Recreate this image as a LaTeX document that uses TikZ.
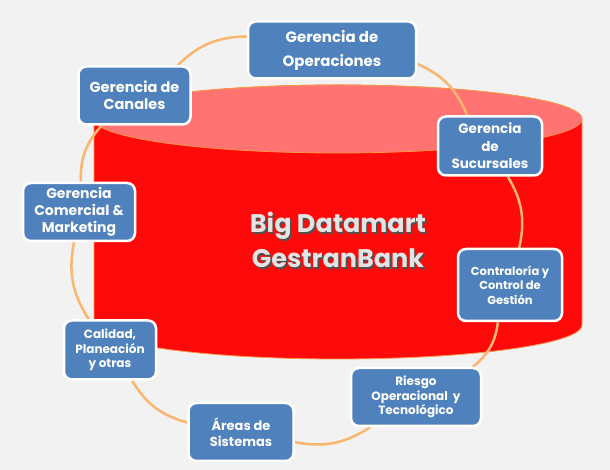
\documentclass[tikz,border=0pt]{standalone}
\usepackage{fontspec}
\setmainfont{Poppins}
\usetikzlibrary{positioning,backgrounds}
\definecolor{boxBlue}{RGB}{79,129,189}
\definecolor{cylRed}{RGB}{255,10,10}
\definecolor{cylTop}{RGB}{255,115,115}
\definecolor{rimOrange}{RGB}{247,150,70}
\definecolor{ringOrange}{RGB}{250,182,110}
\definecolor{pageGray}{RGB}{242,242,242}
\definecolor{titleGray}{RGB}{228,228,228}
\definecolor{shadowGray}{RGB}{80,80,80}
\pgfdeclarelayer{bottom}
\pgfdeclarelayer{ring}
\pgfsetlayers{bottom,ring,main}

\begin{document}
\begin{tikzpicture}[x=1pt, y=1pt,
  gerbox/.style={draw=white, line width=2.5pt, fill=boxBlue, rounded corners=8pt,
    text=white, align=center, inner sep=1pt},
  bigtext/.style={align=center, font=\bfseries\fontsize{25.5}{35}\selectfont},
  ringarc/.style={draw=ringOrange, line width=2.5pt, bend left=22}]
  \useasboundingbox (0,0) rectangle (610,470);
  \begin{pgfonlayer}{bottom}
    \fill[pageGray] (0,0) rectangle (610,470);
    % Cylinder
    \filldraw[fill=cylRed, draw=rimOrange, line width=0.8pt]
      (94,351) -- (94,145) arc[start angle=180, end angle=360, x radius=244, y radius=34]
      -- (582,351) arc[start angle=0, end angle=180, x radius=244, y radius=34] -- cycle;
    \filldraw[fill=cylTop, draw=rimOrange, line width=0.8pt]
      (338,351) ellipse[x radius=244, y radius=34];
    \node[bigtext, text=shadowGray] (bigshadow) at (339.5,228.5) {Big Datamart\\GestranBank};
    \node[bigtext, text=titleGray] (bigtitle) at (338,230) {Big Datamart\\GestranBank};
  \end{pgfonlayer}
  % Areas
  \node[gerbox, minimum width=168pt, minimum height=57pt, font=\bfseries\fontsize{15}{24}\selectfont]
    (ope) at (332,420) {Gerencia de\\Operaciones};
  \node[gerbox, minimum width=104pt, minimum height=59pt, font=\bfseries\fontsize{13.5}{17.5}\selectfont]
    (suc) at (490,324) {Gerencia\\de\\Sucursales};
  \node[gerbox, minimum width=104pt, minimum height=72pt, font=\bfseries\fontsize{11.5}{14.5}\selectfont]
    (con) at (510,185) {Contraloría y\\Control de\\Gestión};
  \node[gerbox, minimum width=130pt, minimum height=58pt, font=\bfseries\fontsize{12}{14.5}\selectfont]
    (rie) at (416,73) {Riesgo\\Operacional\ \ y\\Tecnológico};
  \node[gerbox, minimum width=105pt, minimum height=58pt, font=\bfseries\fontsize{13}{16}\selectfont]
    (are) at (241,38) {Áreas de\\Sistemas};
  \node[gerbox, minimum width=92pt, minimum height=59pt, font=\bfseries\fontsize{12}{14.5}\selectfont]
    (cal) at (110,120) {Calidad,\\Planeación\\y otras};
  \node[gerbox, minimum width=112pt, minimum height=58pt, font=\bfseries\fontsize{14}{17}\selectfont]
    (com) at (79,258) {Gerencia\\Comercial \&\\Marketing};
  \node[gerbox, minimum width=112pt, minimum height=58pt, font=\bfseries\fontsize{14.5}{16.5}\selectfont]
    (can) at (134.5,374.5) {Gerencia de\\Canales};
  % Ring
  \begin{pgfonlayer}{ring}
    \draw[ringarc] (ope) to (suc);
    \draw[ringarc] (suc) to (con);
    \draw[ringarc] (con) to (rie);
    \draw[ringarc] (rie) to (are);
    \draw[ringarc] (are) to (cal);
    \draw[ringarc] (cal) to (com);
    \draw[ringarc] (com) to (can);
    \draw[ringarc] (can) to (ope);
  \end{pgfonlayer}
\end{tikzpicture}
\end{document}
